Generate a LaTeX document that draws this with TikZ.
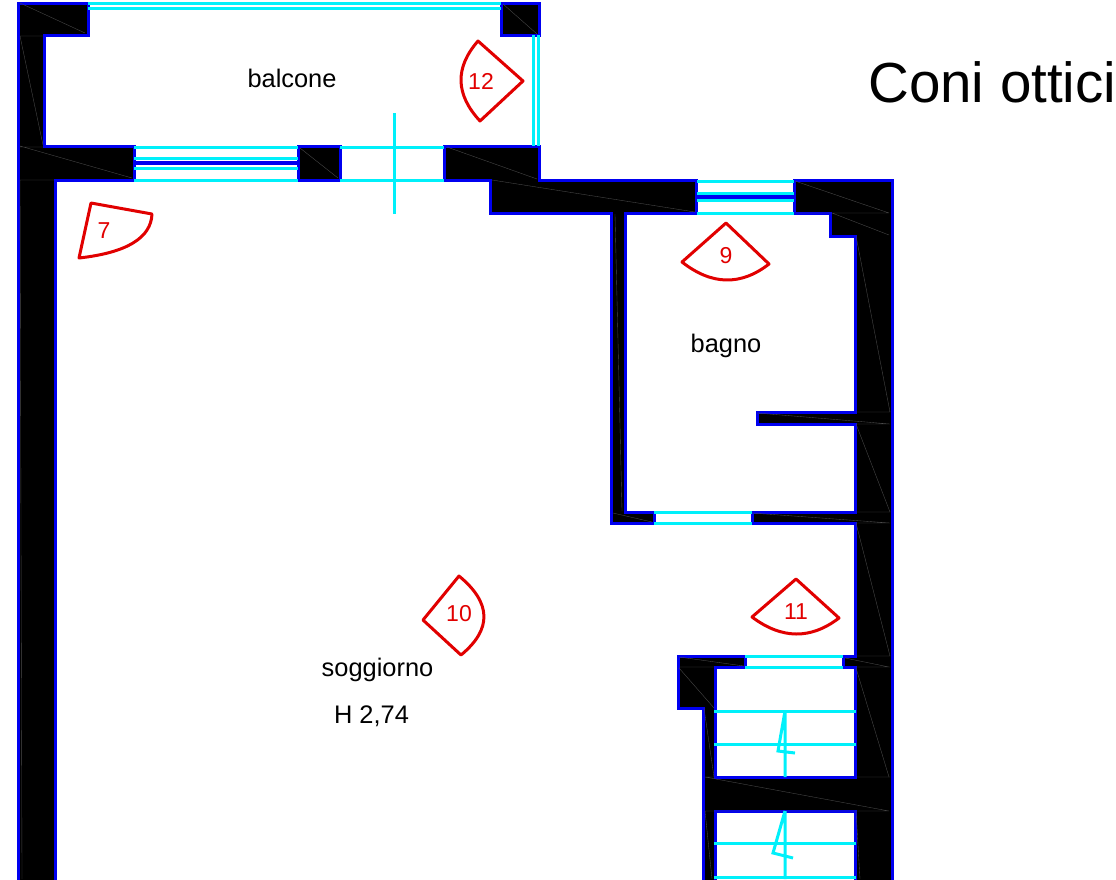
\documentclass[tikz,border=0pt]{standalone}
\usepackage{fontspec}
\setmainfont{Liberation Sans}
\definecolor{wallblue}{RGB}{0,0,240}
\definecolor{glass}{RGB}{0,240,250}
\definecolor{conered}{RGB}{225,0,0}
\tikzset{
  wall/.style={fill=black,draw=wallblue,line width=3pt,line join=miter},
  seam/.style={draw=black!70,line width=0.35pt},
  glassline/.style={draw=glass,line width=3pt},
  core/.style={draw=wallblue,line width=3.4pt},
  cone/.style={draw=conered,line width=3pt,line join=round},
  room/.style={font=\fontsize{25.4}{30}\selectfont,inner sep=0pt,text=black},
  conelabel/.style={font=\fontsize{23}{26}\selectfont,inner sep=0pt,text=conered},
}
\begin{document}
\begin{tikzpicture}[x=1pt,y=-1pt]
\useasboundingbox (0,0) rectangle (1116,879);
\begin{scope}
\clip (0,0) rectangle (1116,879);
% walls
\path[wall] (18,3) -- (88,3) -- (88,35) -- (44,35) -- (44,146) -- (134,146) -- (134,180) -- (55,180) -- (55,885) -- (18,885) -- cycle;
\path[wall] (298,146) rectangle (340,180);
\path[wall] (501,3) rectangle (539,35);
\path[wall] (444,146) -- (539,146) -- (539,180) -- (696,180) -- (696,213) -- (625,213) -- (625,512) -- (654,512) -- (654,523) -- (611,523) -- (611,213) -- (490,213) -- (490,180) -- (444,180) -- cycle;
\path[wall] (794,180) -- (892,180) -- (892,885) -- (855,885) -- (855,811) -- (715,811) -- (715,885) -- (703,885) -- (703,708) -- (678,708) -- (678,656) -- (745,656) -- (745,667) -- (715,667) -- (715,777) -- (855,777) -- (855,667) -- (843,667) -- (843,656) -- (855,656) -- (855,523) -- (752,523) -- (752,512) -- (855,512) -- (855,424) -- (757,424) -- (757,412) -- (855,412) -- (855,236) -- (830,236) -- (830,213) -- (794,213) -- cycle;
% seams in the walls
\draw[seam] (20,3) -- (85,33) (20,36) -- (43,36) (20,36) -- (43,145) (20,146) -- (132,178) (20,147) -- (44,147) (20,180) -- (54,180) (20,180) -- (22,879);
\draw[seam] (300,148) -- (338,178) (503,4) -- (537,34);
\draw[seam] (447,147) -- (537,179) (492,180) -- (695,212) (615,214) -- (622,511) (613,513) -- (652,522);
\draw[seam] (795,181) -- (889,213) (795,213) -- (889,213) (832,213) -- (889,235) (856,236) -- (890,412) (757,413) -- (890,424) (856,412) -- (890,412) (856,424) -- (890,424) (856,424) -- (890,512);
\draw[seam] (752,513) -- (890,523) (856,512) -- (890,512) (856,523) -- (890,523) (856,523) -- (890,656) (856,656) -- (890,656) (856,667) -- (890,667) (845,658) -- (889,667);
\draw[seam] (679,657) -- (744,666) (679,668) -- (714,708) (679,667) -- (714,667) (704,708) -- (714,777) (856,668) -- (889,777);
\draw[seam] (705,777) -- (889,811) (856,777) -- (890,777) (705,777) -- (714,777) (705,811) -- (889,811) (856,811) -- (860,879) (705,811) -- (712,879);
% windows and doors
\draw[glassline] (88,3) -- (501,3) (88,8) -- (501,8);
\draw[glassline] (533,35) -- (533,146) (538,35) -- (538,146);
\draw[glassline] (134,147) -- (298,147) (134,180) -- (298,180) (134,158) -- (298,158) (134,168) -- (298,168);
\draw[core] (134,163) -- (298,163);
\draw[glassline] (340,147) -- (444,147) (340,180) -- (444,180) (394,113) -- (394,214);
\draw[glassline] (697,181) -- (794,181) (697,213) -- (794,213) (697,193) -- (794,193) (697,200) -- (794,200);
\draw[core] (697,197) -- (794,197);
\draw[glassline] (654,512) -- (752,512) (654,523) -- (752,523);
\draw[glassline] (745,656) -- (843,656) (745,667) -- (843,667);
% stairs
\draw[glassline] (714,711) -- (856,711) (714,744) -- (856,744) (714,843) -- (856,843) (714,877) -- (856,877);
\draw[glassline,line join=miter] (785,711) -- (785,777) (785,711) -- (778,751) -- (795,753);
\draw[glassline,line join=miter] (785,811) -- (785,879) (785,811) -- (773,853) -- (793,858);
% viewing cones
\draw[cone] (91,203) -- (152,214) .. controls (151,238) and (126.7,252.7) .. (79,258) -- cycle;
\draw[cone] (523,81) -- (478,41) .. controls (454.7,67.7) and (455.3,94.3) .. (480,121) -- cycle;
\draw[cone] (726,223) -- (682,262) .. controls (711.7,285.3) and (740.7,286) .. (769,264) -- cycle;
\draw[cone] (796,579) -- (752,617) .. controls (781.7,639.3) and (810.7,639.7) .. (839,618) -- cycle;
\draw[cone] (423,620) -- (459,576) .. controls (491.7,603) and (492.1,629.3) .. (461,655) -- cycle;
\end{scope}
% labels
\node[conelabel] (c7) at (104,231) {7};
\node[conelabel] (c12) at (481,81) {12};
\node[conelabel] (c9) at (726,256) {9};
\node[conelabel] (c11) at (796,612) {11};
\node[conelabel] (c10) at (459,614) {10};
\node[room,anchor=base] (balcone) at (292,87) {balcone};
\node[room,anchor=base] (bagno) at (726,352) {bagno};
\node[room,anchor=base] (soggiorno) at (377.5,676) {soggiorno};
\node[room,anchor=base] (altezza) at (371.5,723) {H 2,74};
\node[font=\fontsize{56.5}{64}\selectfont,inner sep=0pt,anchor=base west] (titolo) at (868,102) {Coni ottici};
\end{tikzpicture}
\end{document}
